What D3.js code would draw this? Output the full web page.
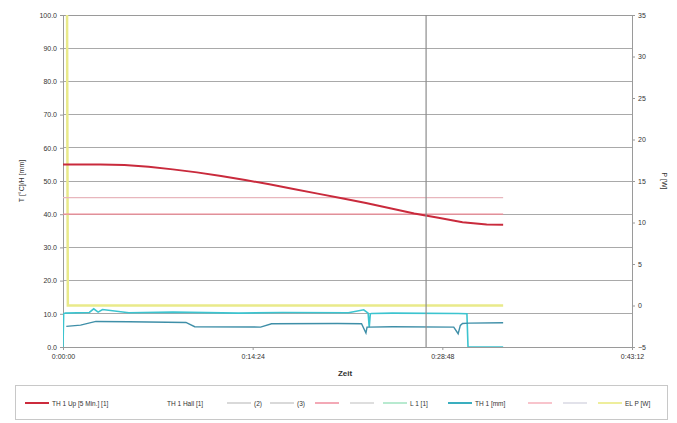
<!DOCTYPE html>
<html><head><meta charset="utf-8">
<script src="https://cdn.jsdelivr.net/npm/d3@7"></script>
<style>
html,body{margin:0;padding:0;background:#fff;}
svg{display:block;font-family:"Liberation Sans",Arial,sans-serif;}
</style></head>
<body><svg id="c" width="677" height="423"></svg>
<script>
// ---- data ----
const xTickSeconds = [0, 864, 1728, 2592];
const xTickLabels = ["0:00:00", "0:14:24", "0:28:48", "0:43:12"];
const leftTicks = [0,10,20,30,40,50,60,70,80,90,100];
const rightTicks = [-5,0,5,10,15,20,25,30,35];

// TH 1 Up (left axis) – red curve
const tempTime = [0,170,280,390,500,610,720,830,940,1050,1160,1270,1380,1490,1600,1710,1820,1930,2005];
const tempVals = [55.0,55.0,54.8,54.3,53.5,52.6,51.5,50.3,49.0,47.6,46.2,44.8,43.4,41.8,40.2,38.9,37.6,36.9,36.8];

// limit lines (left axis)
const limitTime = [0, 2005];
const limit45 = [45, 45];
const limit40 = [40, 40];

// L 1 (left axis) – cyan
const l1Time = [0,3,10,120,140,160,180,300,500,800,1000,1300,1370,1390,1395,1400,1405,1500,1800,1840,1845,2005];
const l1Vals = [0,10,10.2,10.4,11.5,10.5,11.3,10.3,10.5,10.2,10.4,10.3,11.2,10.2,6,10,10.1,10.2,10.1,10.0,0,0];

// TH 1 [mm] (left axis) – dark teal
const thTime = [15,80,150,300,560,600,900,950,1250,1360,1380,1385,1390,1500,1780,1800,1810,1820,1850,2005];
const thVals = [6.2,6.6,7.7,7.6,7.4,6.1,6.0,7.0,7.1,7.0,4.2,6.0,6.0,6.1,6.0,4.0,6.5,7.1,7.2,7.3];

// EL P [W] (right axis) – yellow
const pTime = [0,18,22,2005];
const pVals = [40,40,0,0];

// vertical cursor (seconds)
const cursorTime = [1654];

// legend
const legendNames = ["TH 1 Up [5 Min.] [1]","TH 1 Hall [1]","(2)","(3)","","","L 1 [1]","TH 1 [mm]","","","EL P [W]"];
const legendColors = ["#cc2b3c","#ffffff","#d9d9d9","#d9d9d9","#f3a9b6","#dedede","#b8ead0","#3aaebf","#f8c4cc","#e2e2ea","#eeee9c"];
const legendX = [25,140,227,270,315,350,383,448,528,563,598];

// ---- chart ----
const svg = d3.select("#c");
const L = 63, R = 632, T = 15, B = 347;
const x = d3.scaleLinear().domain([0,2592]).range([L,R]);
const yL = d3.scaleLinear().domain([0,100]).range([B,T]);
const yR = d3.scaleLinear().domain([-5,35]).range([B,T]);

svg.append("defs").append("clipPath").attr("id","clip")
  .append("rect").attr("x",L).attr("y",T).attr("width",R-L).attr("height",B-T);

// gridlines
svg.append("g").selectAll("line").data(leftTicks).join("line")
  .attr("x1",L).attr("x2",R).attr("y1",d=>yL(d)).attr("y2",d=>yL(d))
  .attr("stroke","#a9a9a9").attr("stroke-width",1).attr("shape-rendering","crispEdges");

// frame
svg.append("rect").attr("x",L).attr("y",T).attr("width",R-L).attr("height",B-T)
  .attr("fill","none").attr("stroke","#9a9a9a").attr("shape-rendering","crispEdges");

// axes
const fmt = d3.format(".1f");
const axL = svg.append("g").attr("transform",`translate(${L},0)`)
  .call(d3.axisLeft(yL).tickValues(leftTicks).tickFormat(fmt).tickSizeOuter(0).tickSize(3));
const axR = svg.append("g").attr("transform",`translate(${R},0)`)
  .call(d3.axisRight(yR).tickValues(rightTicks).tickFormat(d3.format("d")).tickSizeOuter(0).tickSize(3));
const axX = svg.append("g").attr("transform",`translate(0,${B})`)
  .call(d3.axisBottom(x).tickValues(xTickSeconds).tickFormat((d,i)=>xTickLabels[i]).tickSizeOuter(0).tickSize(3));
[axL,axR,axX].forEach(a=>{
  a.select(".domain").attr("stroke","#9a9a9a");
  a.selectAll(".tick line").attr("stroke","#9a9a9a");
  a.selectAll("text").attr("font-size","7px").attr("fill","#333").attr("font-family","Liberation Sans, Arial, sans-serif");
});
axX.selectAll("text").attr("dy","0.9em");

// axis titles
svg.append("text").attr("transform",`translate(24,${(T+B)/2}) rotate(-90)`)
  .attr("text-anchor","middle").attr("font-size","7px").attr("fill","#333").text("T [°C]/H [mm]");
svg.append("text").attr("transform",`translate(662,${(T+B)/2}) rotate(90)`)
  .attr("text-anchor","middle").attr("font-size","7px").attr("fill","#333").text("P [W]");
svg.append("text").attr("x",345).attr("y",376).attr("text-anchor","middle")
  .attr("font-size","8px").attr("font-weight","bold").attr("fill","#333").text("Zeit");

// series
const g = svg.append("g").attr("clip-path","url(#clip)");
function draw(times, vals, scale, color, w){
  const pts = times.map((t,i)=>[t, vals[i]]);
  g.append("path").datum(pts)
    .attr("fill","none").attr("stroke",color).attr("stroke-width",w)
    .attr("d", d3.line().x(d=>x(d[0])).y(d=>scale(d[1])));
}
draw(pTime, pVals, yR, "#e9ea8a", 2.5);
draw(limitTime, limit45, yL, "#e8b6bd", 1.2);
draw(limitTime, limit40, yL, "#f08a96", 1.2);
draw(l1Time, l1Vals, yL, "#3cc4cf", 1.6);
draw(thTime, thVals, yL, "#3f8fa8", 1.4);
draw(tempTime, tempVals, yL, "#c92a3c", 2);

// cursor
g.selectAll(".cur").data(cursorTime).join("line").attr("class","cur")
  .attr("x1",d=>x(d)).attr("x2",d=>x(d)).attr("y1",T).attr("y2",B)
  .attr("stroke","#8c8c8c").attr("stroke-width",1.2);

// legend
svg.append("rect").attr("x",15.5).attr("y",385.5).attr("width",652).attr("height",34)
  .attr("fill","#fff").attr("stroke","#c8c8c8");
const lg = svg.append("g").selectAll("g").data(legendNames).join("g")
  .attr("transform",(d,i)=>`translate(${legendX[i]},403)`);
lg.append("line").attr("x1",0).attr("x2",24).attr("y1",0).attr("y2",0)
  .attr("stroke",(d,i)=>legendColors[i]).attr("stroke-width",2);
lg.append("text").attr("x",27).attr("y",2.5).attr("font-size","6.5px").attr("fill","#333").text(d=>d);
</script>
</body></html>
